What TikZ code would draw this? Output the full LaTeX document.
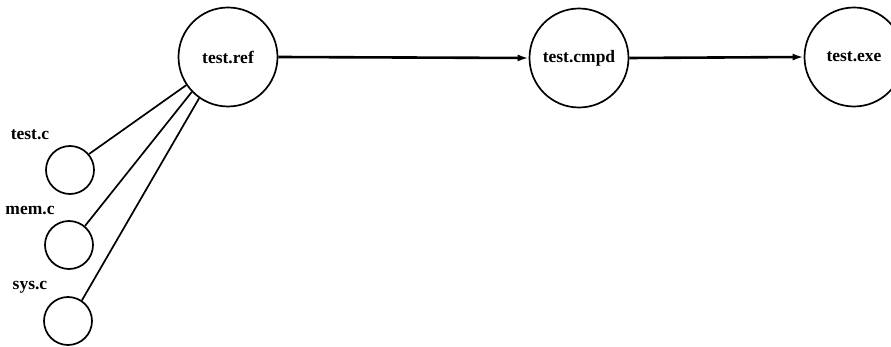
\documentclass[tikz,border=0pt]{standalone}
\usepackage{fontspec}
\setmainfont{Liberation Serif}
\usetikzlibrary{arrows.meta}
\begin{document}
\begin{tikzpicture}[x=1pt,y=-1pt,
  bignode/.style={draw,circle,line width=1.7pt,minimum size=99pt,inner sep=0pt,
    font=\fontsize{17.5}{20}\selectfont\bfseries},
  srcnode/.style={draw,circle,line width=1.7pt,minimum size=48pt,inner sep=0pt},
  srclabel/.style={anchor=base,font=\fontsize{17.5}{20}\selectfont\bfseries},
  flow/.style={line width=2.6pt,-{Latex[length=11pt,width=7pt]}},
  dep/.style={line width=1.7pt}]
  \useasboundingbox (0,0) rectangle (891,347);

  % build chain
  \node[bignode] (ref)  at (228,57) {test.ref};
  \node[bignode] (cmpd) at (579,58) {test.cmpd};
  \node[bignode] (exe)  at (854,57) {test.exe};

  % source files
  \node[srcnode] (tc) at (70,170) {};
  \node[srcnode] (mc) at (69,245) {};
  \node[srcnode] (sc) at (68,321) {};
  \node[srclabel] (tcl) at (30,140) {test.c};
  \node[srclabel] (mcl) at (30,215) {mem.c};
  \node[srclabel] (scl) at (30,290) {sys.c};

  % dependencies on the reference file
  \draw[dep] (tc.40) -- (ref.214);
  \draw[dep] (mc.50) -- (ref.224);
  \draw[dep] (sc.56) -- (ref.235);

  % compilation flow
  \draw[flow] (ref.east) -- (cmpd.west);
  \draw[flow] (cmpd.east) -- (exe.west);
\end{tikzpicture}
\end{document}
